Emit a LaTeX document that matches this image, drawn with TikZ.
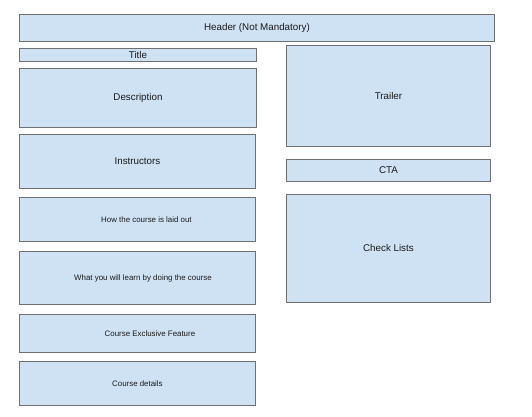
\documentclass[tikz,border=0pt]{standalone}
\usepackage{fontspec}
\setmainfont{Liberation Sans}
\definecolor{boxfill}{HTML}{CFE2F3}
\definecolor{boxline}{HTML}{707070}
\definecolor{txt}{HTML}{1A1A1A}
\begin{document}
\begin{tikzpicture}[x=1pt,y=-1pt,
  box/.style={draw=boxline,fill=boxfill,line width=0.9pt,anchor=north west,inner sep=0pt,text=txt,font=\fontsize{9.8pt}{11pt}\selectfont},
  smalltext/.style={font=\fontsize{7.9pt}{9pt}\selectfont}]
\useasboundingbox (0,0) rectangle (532,416);
\fill[white] (0,0) rectangle (532,416);
\node[box,minimum width=475pt,minimum height=27pt] (header) at (19,14) {Header (Not Mandatory)};
\node[box,minimum width=237pt,minimum height=13pt] (title) at (19,48) {Title};
\node[box,minimum width=237pt,minimum height=59pt] (desc) at (19,68) {Description};
\node[box,minimum width=236pt,minimum height=54pt] (instr) at (19,134) {Instructors};
\node[box,smalltext,minimum width=236pt,minimum height=44pt] (how) at (19,197) {\hspace*{18pt}How the course is laid out};
\node[box,smalltext,minimum width=236pt,minimum height=53pt] (what) at (19,251) {\hspace*{11pt}What you will learn by doing the course};
\node[box,smalltext,minimum width=236pt,minimum height=38pt] (excl) at (19,314) {\hspace*{25pt}Course Exclusive Feature};
\node[box,smalltext,minimum width=236pt,minimum height=44pt] (details) at (19,361) {Course details};
\node[box,minimum width=204pt,minimum height=101pt] (trailer) at (286,45) {Trailer};
\node[box,minimum width=204pt,minimum height=22pt] (cta) at (286,159) {CTA};
\node[box,minimum width=204pt,minimum height=108pt] (check) at (286,194) {Check Lists};
\end{tikzpicture}
\end{document}
